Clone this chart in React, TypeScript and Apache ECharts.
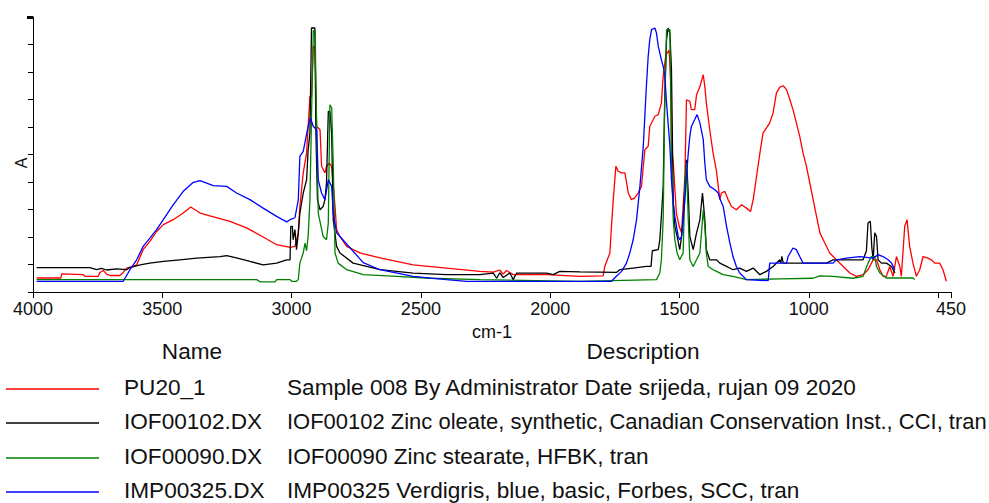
import React, { useEffect, useRef } from "react";
import * as echarts from "echarts";

// Wavenumber axis (cm-1), reversed
const xTickValues = [4000, 3500, 3000, 2500, 2000, 1500, 1000, 500, 450];
const xLabelValues = [4000, 3500, 3000, 2500, 2000, 1500, 1000, 450];

const seriesNames = ["PU20_1", "IOF00102.DX", "IOF00090.DX", "IMP00325.DX"];
const seriesDescriptions = [
  "Sample 008 By Administrator Date srijeda, rujan 09 2020",
  "IOF00102 Zinc oleate, synthetic, Canadian Conservation Inst., CCI, tran",
  "IOF00090 Zinc stearate, HFBK, tran",
  "IMP00325 Verdigris, blue, basic, Forbes, SCC, tran",
];
const seriesColors = ["#ff0000", "#000000", "#008000", "#0000ff"];

// [wavenumber, absorbance (arbitrary units)]
const pu20: [number, number][] = [
  [3986, 0.51], [3892, 0.51], [3889, 0.66], [3806, 0.63], [3799, 0.57], [3748, 0.57], [3741, 0.71], [3728, 0.78],
  [3715, 0.65], [3702, 0.6], [3664, 0.6], [3651, 0.71], [3638, 0.87], [3625, 0.9], [3599, 0.99], [3574, 1.54],
  [3548, 1.84], [3522, 2.2], [3496, 2.45], [3458, 2.63], [3419, 2.87], [3390, 3.09], [3354, 2.87], [3316, 2.77],
  [3238, 2.57], [3174, 2.33], [3110, 2.0], [3058, 1.72], [3006, 1.62], [2987, 1.66], [2974, 2.15], [2968, 3.11],
  [2955, 4.33], [2942, 5.05], [2936, 6.02], [2929, 7.11], [2923, 7.11], [2916, 8.93], [2910, 8.93], [2903, 6.02],
  [2890, 5.9], [2884, 4.57], [2871, 4.33], [2865, 4.57], [2854, 4.69], [2845, 4.57], [2832, 3.11], [2826, 2.27],
  [2813, 2.02], [2787, 1.66], [2736, 1.42], [2658, 1.24], [2530, 0.99], [2401, 0.87], [2272, 0.75], [2220, 0.72],
  [2195, 0.8], [2182, 0.65], [2169, 0.78], [2143, 0.63], [2014, 0.63], [1885, 0.57], [1795, 0.59], [1789, 0.93],
  [1769, 1.42], [1763, 2.39], [1756, 3.36], [1746, 4.57], [1737, 4.39], [1724, 4.33], [1711, 4.33], [1698, 3.6],
  [1686, 3.36], [1673, 3.42], [1660, 3.6], [1647, 3.84], [1634, 5.17], [1621, 5.3], [1615, 6.02], [1595, 6.39],
  [1582, 6.45], [1570, 6.87], [1563, 7.84], [1553, 8.6], [1540, 8.8], [1533, 7.5], [1531, 5.3], [1524, 4.69],
  [1512, 2.87], [1501, 2.39], [1492, 2.15], [1486, 3.11], [1479, 4.2], [1473, 6.99], [1460, 6.93], [1454, 6.63],
  [1441, 6.63], [1434, 7.17], [1421, 7.47], [1408, 7.9], [1402, 7.47], [1396, 6.87], [1383, 5.9], [1370, 5.05],
  [1357, 4.4], [1344, 3.36], [1338, 3.6], [1325, 3.66], [1312, 3.36], [1299, 3.11], [1280, 2.99], [1260, 3.17],
  [1241, 3.05], [1225, 2.93], [1215, 3.36], [1202, 4.2], [1189, 5.05], [1177, 5.78], [1164, 5.96], [1151, 6.15],
  [1138, 6.51], [1125, 7.24], [1112, 7.45], [1099, 7.5], [1086, 7.36], [1073, 6.99], [1061, 6.63], [1048, 6.15],
  [1035, 5.66], [1022, 5.05], [1009, 4.57], [996, 3.96], [983, 3.36], [970, 2.75], [957, 2.15], [938, 1.78],
  [919, 1.42], [893, 1.17], [867, 0.93], [841, 0.69], [816, 0.57], [790, 0.63], [771, 0.81], [751, 1.17],
  [738, 1.17], [725, 0.81], [713, 0.57], [700, 0.57], [687, 0.93], [674, 0.57], [661, 1.29], [648, 0.93],
  [642, 0.57], [629, 2.39], [620, 2.63], [610, 1.66], [597, 1.05], [584, 0.57], [571, 0.81], [558, 1.29],
  [539, 1.23], [526, 1.17], [513, 1.05], [494, 1.05], [481, 0.81], [468, 0.39],
];

const iof00102: [number, number][] = [
  [3986, 0.89], [3780, 0.89], [3754, 0.81], [3735, 0.86], [3715, 0.8], [3677, 0.84], [3638, 0.81], [3625, 0.89],
  [3586, 0.99], [3548, 1.05], [3496, 1.11], [3432, 1.17], [3367, 1.23], [3277, 1.29], [3251, 1.32], [3213, 1.24],
  [3161, 1.11], [3110, 0.99], [3058, 1.05], [3019, 1.17], [3006, 1.17], [3003, 2.39], [2997, 2.39], [2994, 1.9],
  [2987, 2.27], [2981, 1.54], [2974, 2.15], [2968, 2.87], [2955, 3.6], [2942, 4.08], [2936, 5.17], [2929, 5.78],
  [2923, 9.6], [2910, 9.6], [2906, 5.78], [2900, 3.36], [2890, 2.99], [2878, 3.11], [2871, 3.36], [2865, 3.96],
  [2858, 6.57], [2852, 6.57], [2845, 5.78], [2839, 2.63], [2826, 1.66], [2813, 1.42], [2762, 1.05], [2658, 0.81],
  [2530, 0.69], [2401, 0.63], [2272, 0.63], [2220, 0.69], [2207, 0.5], [2195, 0.7], [2182, 0.53], [2156, 0.69],
  [2143, 0.45], [2130, 0.69], [2014, 0.69], [1988, 0.63], [1963, 0.75], [1885, 0.73], [1744, 0.71], [1731, 0.81],
  [1679, 0.87], [1628, 0.93], [1610, 0.93], [1605, 1.5], [1582, 1.54], [1576, 1.9], [1570, 2.75], [1563, 3.84],
  [1557, 7.11], [1550, 9.17], [1544, 9.6], [1537, 9.42], [1531, 8.08], [1524, 3.24], [1518, 2.39], [1509, 2.02],
  [1499, 1.54], [1492, 2.02], [1486, 2.63], [1479, 3.84], [1473, 4.81], [1466, 3.6], [1460, 2.02], [1447, 1.54],
  [1434, 2.15], [1421, 2.63], [1411, 3.6], [1402, 2.63], [1396, 1.54], [1383, 1.17], [1357, 1.17], [1344, 1.05],
  [1318, 0.93], [1293, 0.81], [1267, 0.87], [1241, 0.75], [1215, 0.87], [1189, 0.63], [1164, 0.75], [1138, 0.93],
  [1112, 1.17], [1108, 1.05], [1104, 1.3], [1099, 1.05], [932, 1.05], [906, 1.17], [790, 1.17], [777, 1.5],
  [771, 2.51], [762, 2.57], [756, 1.6], [751, 1.17], [745, 2.15], [738, 2.02], [732, 1.17], [719, 1.05],
  [700, 1.05], [680, 0.93], [667, 0.69],
];

const iof00090: [number, number][] = [
  [3986, 0.45], [3135, 0.45], [3122, 0.37], [3064, 0.37], [3058, 0.45], [3006, 0.45], [3000, 0.39], [2981, 0.39],
  [2974, 0.45], [2968, 1.05], [2955, 1.42], [2948, 1.78], [2942, 1.5], [2936, 2.02], [2929, 3.36], [2923, 6.39],
  [2916, 9.5], [2909, 9.5], [2903, 5.9], [2897, 2.87], [2878, 2.02], [2865, 1.9], [2858, 2.51], [2852, 6.81],
  [2845, 6.7], [2839, 4.69], [2832, 1.42], [2820, 1.05], [2787, 0.81], [2723, 0.63], [2594, 0.57], [2465, 0.5],
  [2272, 0.45], [1885, 0.39], [1589, 0.45], [1576, 0.69], [1570, 1.17], [1563, 2.63], [1557, 6.87], [1550, 9.54],
  [1537, 9.54], [1531, 4.81], [1524, 2.63], [1518, 1.9], [1509, 1.42], [1499, 1.17], [1486, 1.42], [1479, 3.84],
  [1473, 4.69], [1466, 2.63], [1460, 1.17], [1447, 0.93], [1434, 1.17], [1421, 1.42], [1415, 2.15], [1408, 2.99],
  [1402, 2.39], [1396, 1.42], [1389, 0.93], [1370, 0.81], [1357, 0.75], [1331, 0.63], [1293, 0.57], [1241, 0.45],
  [1112, 0.48], [983, 0.5], [957, 0.59], [906, 0.57], [829, 0.5], [790, 0.57], [771, 1.05], [758, 1.29],
  [745, 1.29], [738, 0.93], [725, 0.69], [700, 0.51], [597, 0.51], [590, 0.45],
];

const imp00325: [number, number][] = [
  [3986, 0.39], [3651, 0.39], [3625, 0.81], [3599, 1.17], [3574, 1.66], [3548, 1.96], [3522, 2.27], [3496, 2.63],
  [3458, 3.17], [3419, 3.66], [3380, 3.99], [3354, 4.05], [3303, 3.87], [3251, 3.84], [3213, 3.6], [3161, 3.36],
  [3110, 3.05], [3058, 2.75], [3019, 2.55], [3006, 2.63], [2987, 2.7], [2974, 3.36], [2968, 4.93], [2955, 5.11],
  [2936, 6.02], [2927, 6.33], [2916, 6.02], [2903, 5.9], [2897, 4.08], [2884, 3.6], [2871, 3.36], [2858, 4.08],
  [2845, 3.84], [2839, 2.87], [2826, 2.15], [2813, 2.02], [2723, 1.07], [2658, 0.81], [2530, 0.57], [2401, 0.45],
  [2323, 0.39], [1763, 0.39], [1744, 0.57], [1724, 0.75], [1705, 1.05], [1692, 1.42], [1679, 1.9], [1666, 2.63],
  [1653, 3.84], [1640, 5.3], [1634, 6.39], [1628, 7.48], [1621, 8.57], [1615, 9.17], [1608, 9.54], [1595, 9.6],
  [1589, 9.42], [1582, 8.93], [1570, 8.45], [1563, 8.2], [1557, 7.9], [1550, 6.87], [1537, 5.3], [1531, 4.08],
  [1524, 3.24], [1518, 2.75], [1505, 2.02], [1499, 1.9], [1492, 2.02], [1486, 2.63], [1479, 3.36], [1473, 4.2],
  [1466, 5.05], [1460, 5.66], [1454, 6.02], [1441, 6.27], [1432, 6.45], [1421, 6.15], [1408, 5.54], [1402, 4.69],
  [1396, 4.08], [1383, 3.84], [1363, 3.72], [1350, 3.6], [1344, 3.4], [1331, 3.11], [1318, 2.39], [1305, 1.78],
  [1293, 1.29], [1280, 0.93], [1267, 0.69], [1241, 0.45], [1157, 0.41], [1151, 1.05], [1086, 1.05], [1080, 1.29],
  [1061, 1.6], [1048, 1.54], [1035, 1.29], [1022, 1.05], [906, 1.05], [893, 1.17], [854, 1.23], [803, 1.29],
  [751, 1.23], [732, 1.36], [713, 1.29], [693, 1.17], [680, 1.05], [667, 0.81],
];

const seriesData = [pu20, iof00102, iof00090, imp00325];

export default function App() {
  const ref = useRef<HTMLDivElement>(null);

  useEffect(() => {
    if (!ref.current) return;
    const chart = echarts.init(ref.current, null, { renderer: "svg" });
    const ff = '"Liberation Sans", Arial, sans-serif';
    const rowY = [387, 421, 456, 490];
    const legendFont = `22.6px ${ff}`;
    const descStartX = 287;
    const pageRight = 987;

    const legendGraphics: any[] = [];
    seriesNames.forEach((name, i) => {
      legendGraphics.push({
        type: "line",
        shape: { x1: 6, y1: rowY[i] + 2, x2: 99, y2: rowY[i] + 2 },
        style: { stroke: seriesColors[i], lineWidth: 1.5 },
      });
      legendGraphics.push({
        type: "text",
        x: 124,
        y: rowY[i],
        style: {
          text: name,
          font: legendFont,
          fill: "#111",
          verticalAlign: "middle",
          textVerticalAlign: "middle",
        },
      });
      // shrink a description slightly if it would run past the page edge
      const measured = echarts.format.getTextRect
        ? (echarts.format as any).getTextRect(seriesDescriptions[i], legendFont).width
        : 0;
      const avail = pageRight - descStartX;
      const size = measured > avail ? (22.6 * avail) / measured : 22.6;
      legendGraphics.push({
        type: "text",
        x: descStartX,
        y: rowY[i],
        style: {
          text: seriesDescriptions[i],
          font: `${size.toFixed(2)}px ${ff}`,
          fill: "#111",
          verticalAlign: "middle",
          textVerticalAlign: "middle",
        },
      });
    });

    chart.setOption({
      animation: false,
      backgroundColor: "#ffffff",
      grid: { left: 33, right: 38, top: 17, bottom: 211, containLabel: false },
      xAxis: {
        type: "value",
        inverse: true,
        min: 450,
        max: 4000,
        name: "cm-1",
        nameLocation: "middle",
        nameGap: 28,
        nameTextStyle: { fontFamily: ff, fontSize: 18, color: "#111" },
        axisLine: { lineStyle: { color: "#000", width: 1 } },
        axisTick: { show: true, inside: false, length: 6, customValues: xTickValues, lineStyle: { color: "#000" } },
        axisLabel: {
          customValues: xLabelValues,
          formatter: (v: number) => String(v),
          fontFamily: ff,
          fontSize: 18,
          color: "#111",
          margin: 8,
        },
        splitLine: { show: false },
      },
      yAxis: {
        type: "value",
        min: 0,
        max: 10,
        interval: 1,
        axisLine: { show: true, lineStyle: { color: "#000", width: 1 } },
        axisTick: { show: true, inside: false, length: 5, lineStyle: { color: "#000" } },
        axisLabel: { show: false },
        splitLine: { show: false },
      },
      graphic: [
        {
          type: "text",
          x: 21,
          y: 163,
          rotation: Math.PI / 2,
          style: {
            text: "A",
            font: `16px ${ff}`,
            fill: "#111",
            align: "center",
            verticalAlign: "middle",
            textAlign: "center",
            textVerticalAlign: "middle",
          },
        },
        { type: "rect", shape: { x: 27, y: 16, width: 6, height: 3 }, style: { fill: "#000" } },
        {
          type: "text",
          x: 192,
          y: 351,
          style: {
            text: "Name",
            font: legendFont,
            fill: "#111",
            align: "center",
            verticalAlign: "middle",
            textAlign: "center",
            textVerticalAlign: "middle",
          },
        },
        {
          type: "text",
          x: 643,
          y: 351,
          style: {
            text: "Description",
            font: legendFont,
            fill: "#111",
            align: "center",
            verticalAlign: "middle",
            textAlign: "center",
            textVerticalAlign: "middle",
          },
        },
        ...legendGraphics,
      ],
      series: seriesNames.map((name, i) => ({
        name,
        type: "line",
        data: seriesData[i],
        showSymbol: false,
        symbol: "none",
        smooth: false,
        lineStyle: { color: seriesColors[i], width: 1.3 },
        itemStyle: { color: seriesColors[i] },
        z: 2 + i,
      })),
    });

    return () => chart.dispose();
  }, []);

  return (
    <div
      ref={ref}
      style={{ position: "fixed", left: 0, top: 0, width: 989, height: 503, background: "#fff" }}
    />
  );
}
